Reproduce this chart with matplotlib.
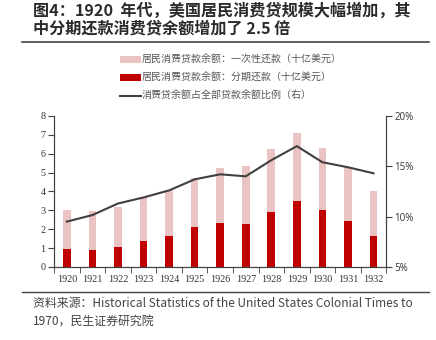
import numpy as np
import matplotlib.pyplot as plt
from matplotlib.ticker import FuncFormatter

plt.rcParams['font.family'] = ['Noto Sans CJK SC', 'DejaVu Sans']

years = ['1920', '1921', '1922', '1923', '1924', '1925', '1926',
         '1927', '1928', '1929', '1930', '1931', '1932']
# total consumer credit and installment part (billion USD)
total = [3.0, 2.97, 3.15, 3.7, 4.05, 4.72, 5.22, 5.33, 6.25, 7.1, 6.32, 5.3, 4.02]
installment = [0.95, 0.9, 1.04, 1.35, 1.65, 2.09, 2.34, 2.28, 2.9, 3.5, 3.0, 2.42, 1.65]
ratio = [9.5, 10.15, 11.3, 11.9, 12.6, 13.7, 14.2, 14.0, 15.6, 17.0, 15.4, 14.9, 14.3]

lump_sum = [t - i for t, i in zip(total, installment)]

light_red = '#EBC3C2'
dark_red = '#C00000'
line_gray = '#404040'

fig = plt.figure(figsize=(4.36, 3.40), dpi=100)
ax = fig.add_axes([0.124, 0.215, 0.762, 0.444])
x = np.arange(len(years))
w = 0.3

b1 = ax.bar(x, lump_sum, w, bottom=installment, color=light_red,
            label='居民消费贷款余额：一次性还款（十亿美元）')
b2 = ax.bar(x, installment, w, color=dark_red,
            label='居民消费贷款余额：分期还款（十亿美元）')
ax.set_ylim(0, 8)
ax.set_xlim(-0.5, len(years) - 0.5)
ax.set_yticks(range(9))
ax.set_xticks(x)
ax.set_xticklabels(years)
ax.set_xticks(np.arange(-0.5, len(years), 1), minor=True)
ax.tick_params(axis='x', which='major', length=0, pad=6)
ax.tick_params(axis='x', which='minor', length=4, direction='out', color='#404040')
ax.tick_params(axis='y', length=4, direction='out', color='#404040', pad=2)

ax2 = ax.twinx()
l1, = ax2.plot(x, ratio, color=line_gray, lw=1.5,
               label='消费贷余额占全部贷款余额比例（右）')
ax2.set_ylim(5, 20)
ax2.set_yticks([5, 10, 15, 20])
ax2.yaxis.set_major_formatter(FuncFormatter(lambda v, p: f'{v:.0f}%'))
ax2.tick_params(axis='y', length=4, direction='out', color='#404040', pad=2)

for a in (ax, ax2):
    a.spines['top'].set_visible(False)
    for s in ('left', 'right', 'bottom'):
        a.spines[s].set_color('#404040')
        a.spines[s].set_linewidth(0.8)

for lab in ax.get_xticklabels() + ax.get_yticklabels():
    lab.set_fontfamily('Liberation Serif')
    lab.set_fontsize(7.3)
    lab.set_color('#333333')
for lab in ax2.get_yticklabels():
    lab.set_fontfamily('Open Sans')
    lab.set_fontsize(7)
    lab.set_color('#333333')

leg = fig.legend(handles=[b1, b2, l1], loc='upper left',
                 bbox_to_anchor=(0.265, 0.85), frameon=False,
                 fontsize=7.2, handlelength=2.1, handleheight=0.6,
                 handletextpad=0.15, labelspacing=0.8, borderaxespad=0)
for t in leg.get_texts():
    t.set_color('#555555')

fig.text(0.075, 0.992, '图4：1920  年代，美国居民消费贷规模大幅增加，其\n中分期还款消费贷余额增加了 2.5 倍',
         fontsize=11.6, fontweight='bold', color='#2b2b2b', va='top',
         linespacing=1.08)
fig.add_artist(plt.Line2D([0.05, 0.985], [0.876, 0.876], color='#444444', lw=1.2))
fig.add_artist(plt.Line2D([0.05, 0.985], [0.141, 0.141], color='#444444', lw=1.0))
fig.text(0.075, 0.127, '资料来源：Historical Statistics of the United States Colonial Times to\n1970，民生证券研究院',
         fontsize=8.6, color='#444444', va='top', linespacing=1.45)

fig.savefig('out.png', dpi=100)
